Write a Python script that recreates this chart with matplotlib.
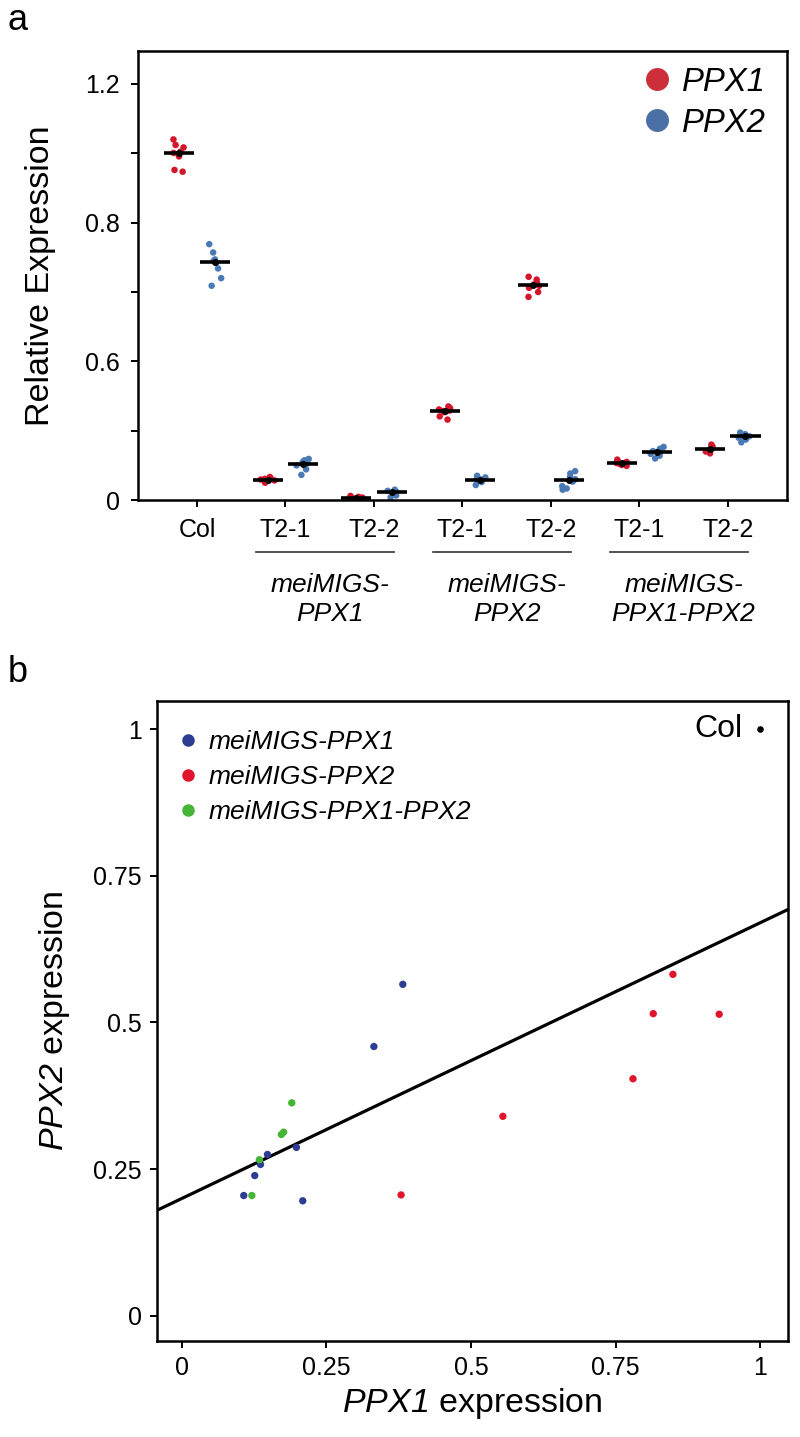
import numpy as np
import matplotlib.pyplot as plt
from matplotlib.lines import Line2D

plt.rcParams['font.family'] = ['Liberation Sans', 'DejaVu Sans']
# mathtext only used for the italic gene names, digits included
plt.rcParams['mathtext.fontset'] = 'custom'
plt.rcParams['mathtext.rm'] = 'Liberation Sans:italic'
plt.rcParams['mathtext.it'] = 'Liberation Sans:italic'

# ---- panel a data ----
tick_labels = ['Col', 'T2-1', 'T2-2', 'T2-1', 'T2-2', 'T2-1', 'T2-2']
group_names = ['meiMIGS-\nPPX1', 'meiMIGS-\nPPX2', 'meiMIGS-\nPPX1-PPX2']

ppx1_rel = [
    [1.040, 1.024, 1.017, 1.005, 1.001, 0.998, 0.991, 0.952, 0.947],
    [0.100, 0.095, 0.092, 0.089, 0.085, 0.080, 0.075],
    [0.018, 0.014, 0.011, 0.0095, 0.008, 0.005, 0.003],
    [0.405, 0.398, 0.392, 0.387, 0.385, 0.380, 0.362, 0.348],
    [0.722, 0.718, 0.714, 0.711, 0.709, 0.706, 0.700, 0.693],
    [0.175, 0.170, 0.165, 0.161, 0.158, 0.152, 0.148],
    [0.240, 0.232, 0.226, 0.221, 0.218, 0.210, 0.202],
]
ppx2_rel = [
    [0.769, 0.757, 0.747, 0.745, 0.742, 0.734, 0.720, 0.709],
    [0.178, 0.172, 0.165, 0.158, 0.150, 0.133, 0.109],
    [0.045, 0.040, 0.036, 0.033, 0.030, 0.020, 0.012],
    [0.105, 0.098, 0.093, 0.089, 0.085, 0.078, 0.065],
    [0.125, 0.115, 0.100, 0.090, 0.085, 0.080, 0.060, 0.050, 0.045],
    [0.230, 0.222, 0.212, 0.208, 0.205, 0.200, 0.192, 0.180],
    [0.292, 0.285, 0.280, 0.276, 0.275, 0.270, 0.262, 0.250],
]

# ---- panel b data ----
ppx1_line_x = [0.382, 0.332, 0.198, 0.148, 0.136, 0.126, 0.107, 0.209]
ppx1_line_y = [0.565, 0.459, 0.287, 0.275, 0.258, 0.239, 0.205, 0.196]
ppx2_line_x = [0.849, 0.815, 0.929, 0.780, 0.555, 0.379]
ppx2_line_y = [0.582, 0.515, 0.514, 0.404, 0.340, 0.206]
both_line_x = [0.190, 0.176, 0.172, 0.134, 0.121]
both_line_y = [0.363, 0.313, 0.309, 0.266, 0.205]
col_x, col_y = 1.0, 1.0
fit_intercept = 0.200
fit_slope = 0.470

red = '#d3162b'
blue = '#4a7ab5'

fig = plt.figure(figsize=(8, 14.37), dpi=100)

# ================= panel a =================
ax1 = fig.add_axes([0.1725, 0.652, 0.811, 0.3125])

# axis in the figure is piecewise (0-0.6, 0.6-0.8, 0.8-1.2 equally spaced)
yp = [-0.6, 0.0, 0.6, 0.8, 2.0]
up = [-2.0, 0.0, 2.0, 4.0, 10.0]
def fwd(v):
    return np.interp(v, yp, up)
def inv(u):
    return np.interp(u, up, yp)
ax1.set_yscale('function', functions=(fwd, inv))

rng = np.random.default_rng(3)
off = 0.2
hw = 0.17
for i in range(len(tick_labels)):
    for vals, shift, c in ((ppx1_rel[i], -off, red), (ppx2_rel[i], off, blue)):
        vals = np.array(vals)
        jit = rng.uniform(-0.08, 0.08, len(vals))
        ax1.scatter(i + shift + jit, vals, s=22, color=c, edgecolors='none', zorder=2)
        med = np.median(vals)
        ax1.hlines(med, i + shift - hw, i + shift + hw, color='k', lw=2.6, zorder=3)
        ax1.plot(i + shift, med, 'o', color='k', ms=4, zorder=4)

ax1.set_xlim(-0.667, 6.667)
ax1.set_ylim(0, 1.295)
ax1.set_xticks(range(len(tick_labels)))
ax1.set_xticklabels(tick_labels, fontsize=18)
ax1.set_yticks([0, 0.3, 0.6, 0.7, 0.8, 1.0, 1.2])
ax1.set_yticklabels(['0', '', '0.6', '', '0.8', '', '1.2'], fontsize=18)
ax1.minorticks_off()
ax1.tick_params(axis='x', length=5, width=1.4, pad=8)
ax1.tick_params(axis='y', length=5, width=1.4, pad=8)
for sp in ax1.spines.values():
    sp.set_linewidth(1.8)
ax1.set_ylabel('Relative Expression', fontsize=24.5)
ax1.yaxis.set_label_coords(-0.127, 0.5)

trans = ax1.get_xaxis_transform()
for g, name in enumerate(group_names):
    c = 1.5 + 2 * g - 0.05
    ax1.plot([c - 0.78, c + 0.78], [-0.1158, -0.1158], transform=trans,
             color='#333333', lw=1.2, clip_on=False)
    ax1.text(c + 0.05, -0.222, name, transform=trans, ha='center', va='center',
             style='italic', fontsize=19, linespacing=1.25)

h1 = [Line2D([], [], marker='o', ls='', ms=15.5, color='#cc2f3a'),
      Line2D([], [], marker='o', ls='', ms=15.5, color='#4b70a6')]
ax1.legend(h1, ['PPX1', 'PPX2'], loc='upper left', bbox_to_anchor=(0.78, 0.965),
           frameon=False, borderpad=0, borderaxespad=0, handlelength=0.8,
           handletextpad=0.36, labelspacing=0.3,
           prop={'size': 23.7, 'style': 'italic'})

# ================= panel b =================
ax2 = fig.add_axes([0.19625, 0.0668, 0.78875, 0.4454])
ax2.scatter(ppx1_line_x, ppx1_line_y, s=28, color='#2e3d94', edgecolors='none', zorder=3)
ax2.scatter(ppx2_line_x, ppx2_line_y, s=28, color='#e0142b', edgecolors='none', zorder=3)
ax2.scatter(both_line_x, both_line_y, s=28, color='#45b535', edgecolors='none', zorder=3)
ax2.scatter([col_x], [col_y], s=14, color='k', zorder=3)
ax2.text(col_x - 0.03, col_y, 'Col', ha='right', va='center', fontsize=23)

xlim = (-0.043, 1.048)
xs = np.array(xlim)
ax2.plot(xs, fit_intercept + fit_slope * xs, color='k', lw=2.3, zorder=2)
ax2.set_xlim(xlim)
ax2.set_ylim(-0.043, 1.048)
ticks = [0, 0.25, 0.5, 0.75, 1]
ax2.set_xticks(ticks)
ax2.set_xticklabels(['0', '0.25', '0.5', '0.75', '1'], fontsize=18)
ax2.set_yticks(ticks)
ax2.set_yticklabels(['0', '0.25', '0.5', '0.75', '1'], fontsize=18)
ax2.tick_params(axis='both', length=5, width=1.4, pad=6)
for sp in ax2.spines.values():
    sp.set_linewidth(1.8)
ax2.set_xlabel(r'$PPX1$ expression', fontsize=24.5)
ax2.set_ylabel(r'$PPX2$ expression', fontsize=24.5)
ax2.yaxis.set_label_coords(-0.135, 0.5)

h2 = [Line2D([], [], marker='o', ls='', ms=8, color='#2e3d94'),
      Line2D([], [], marker='o', ls='', ms=8, color='#e0142b'),
      Line2D([], [], marker='o', ls='', ms=8, color='#45b535')]
ax2.legend(h2, ['meiMIGS-PPX1', 'meiMIGS-PPX2', 'meiMIGS-PPX1-PPX2'], loc='upper left',
           bbox_to_anchor=(0.0325, 0.955), frameon=False, borderpad=0, borderaxespad=0,
           handlelength=0.8, handletextpad=0.36, labelspacing=0.42,
           prop={'size': 19, 'style': 'italic'})

fig.text(18 / 800, 1 - 20 / 1437, 'a', fontsize=26, ha='center', va='center')
fig.text(18 / 800, 1 - 672 / 1437, 'b', fontsize=26, ha='center', va='center')

fig.savefig('out.png', dpi=100)
